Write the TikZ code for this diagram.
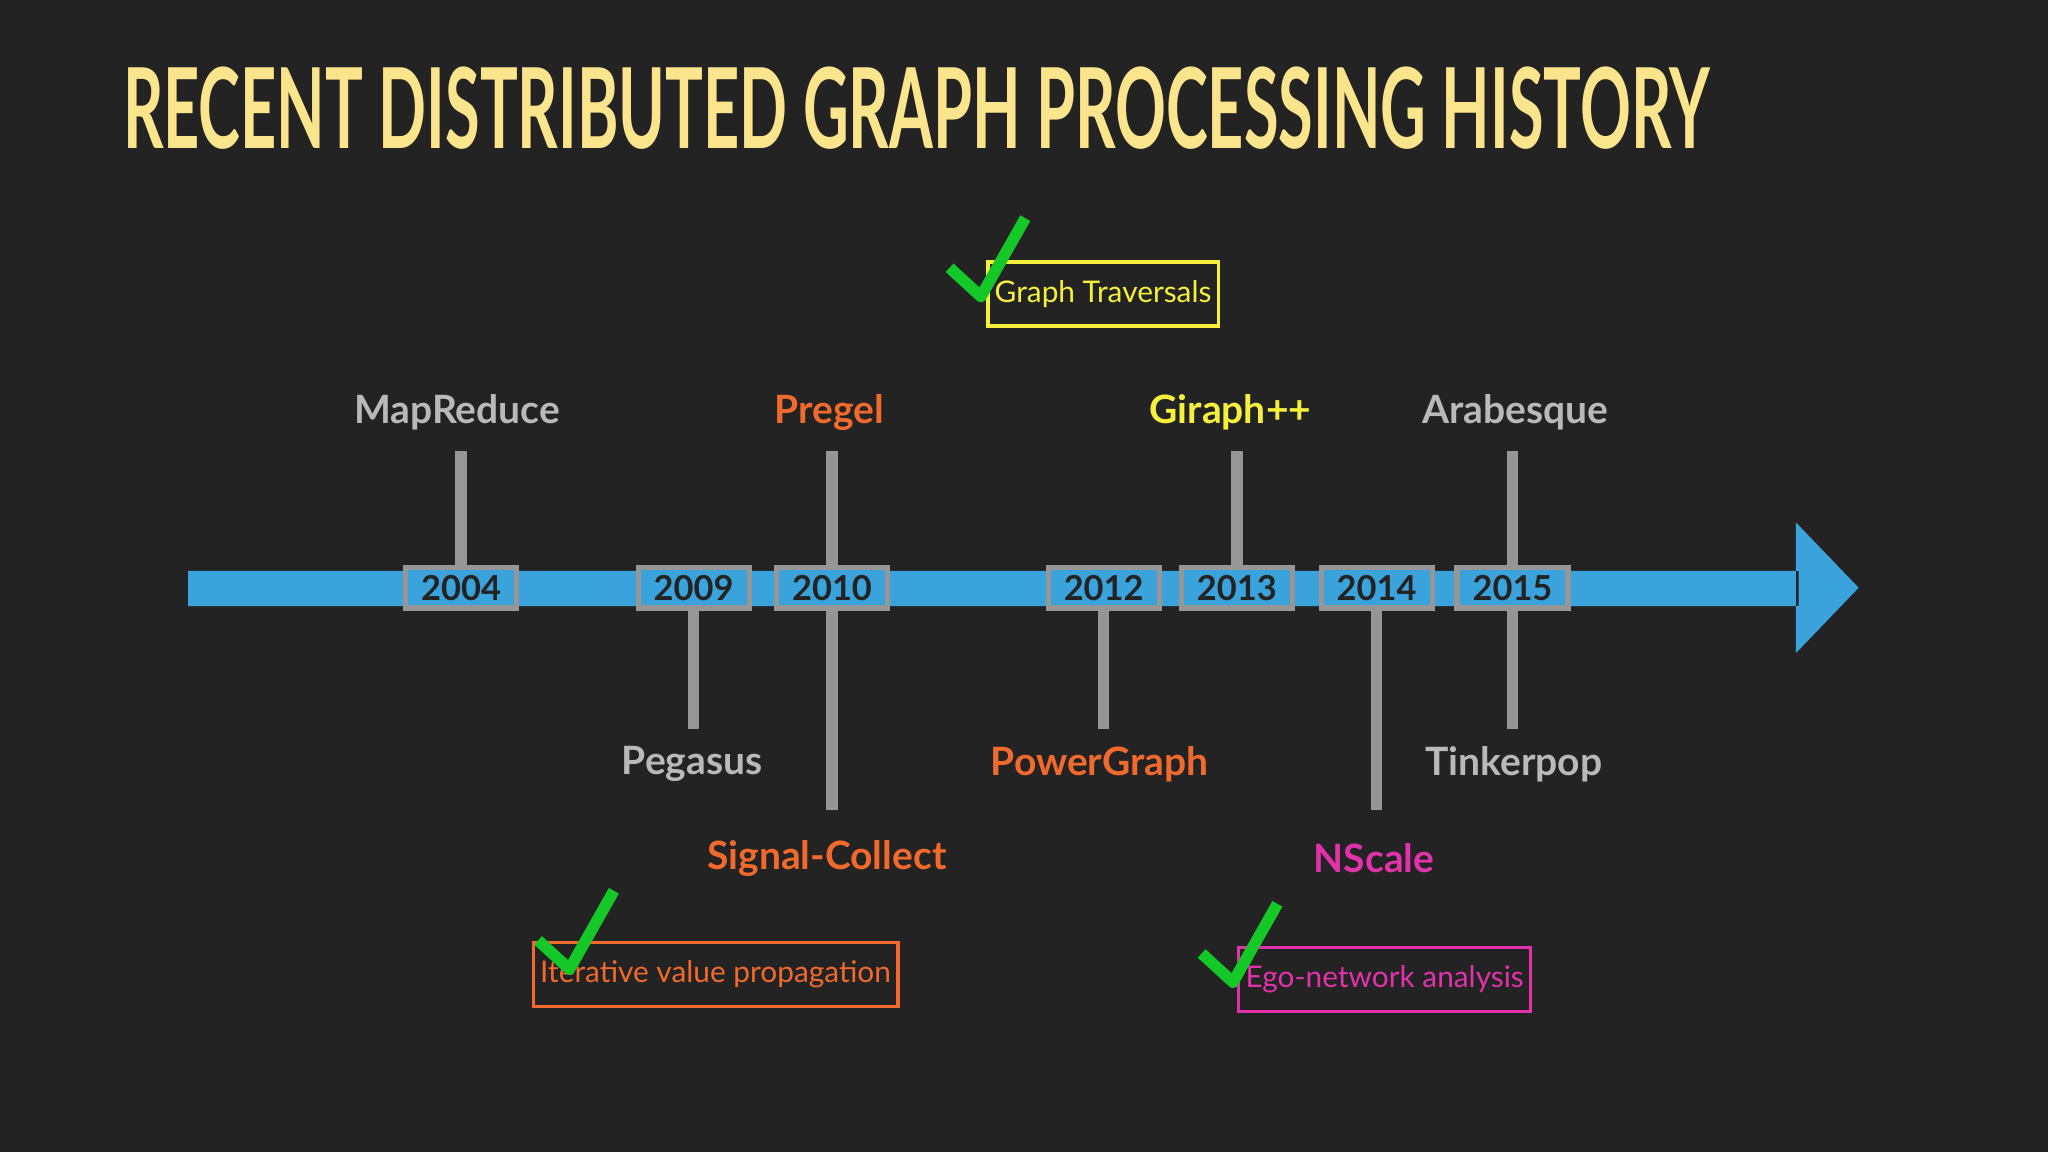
\documentclass[tikz,border=0pt]{standalone}
\usepackage{fontspec}
\setmainfont{Lato}
\usepackage{graphicx}
\usetikzlibrary{positioning}
\definecolor{bg}{RGB}{35,35,35}
\definecolor{tline}{RGB}{58,163,220}
\definecolor{stem}{RGB}{150,150,150}
\definecolor{titl}{RGB}{250,228,140}
\definecolor{grau}{RGB}{185,185,185}
\definecolor{orng}{RGB}{240,105,45}
\definecolor{gelb}{RGB}{245,240,60}
\definecolor{mag}{RGB}{225,50,170}
\definecolor{grn}{RGB}{20,200,40}
\begin{document}
\begin{tikzpicture}[x=0.02cm, y=-0.02cm,
                      year/.style = {
                        draw=stem, line width=2.2pt, fill=tline,
                        minimum width=1.7cm, minimum height=0.62cm,
                        inner sep=0pt, font=\fontsize{15}{15}\selectfont\bfseries,
                        text=bg
                      },
                      sys/.style = {
                        font=\fontsize{17}{17}\selectfont\bfseries
                      },
                      note/.style = {
                        draw, line width=1.5pt, inner sep=3pt,
                        minimum height=0.98cm,
                        font=\fontsize{13}{13}\selectfont
                      },
                      stemline/.style = {draw=stem, line width=5pt},
                      tick/.style = {draw=grn, line width=5pt, line join=round}]
    \fill[bg] (0,0) rectangle (1568,882);

    \node(title)[anchor=west, text=titl] at (88,83)
      {\resizebox{24.3cm}{1.25cm}{\bfseries RECENT DISTRIBUTED GRAPH PROCESSING HISTORY}};

    % timeline
    \fill[tline] (144,437) rectangle (1377,464)
      (1375,400) -- (1423,450) -- (1375,500) -- cycle;

    % stem ends
    \coordinate (u2004) at (353,345);
    \coordinate (d2009) at (531,558);
    \coordinate (u2010) at (637,345);
    \coordinate (d2010) at (637,620);
    \coordinate (d2012) at (845,558);
    \coordinate (u2013) at (947,345);
    \coordinate (d2014) at (1054,620);
    \coordinate (u2015) at (1158,345);
    \coordinate (d2015) at (1158,558);

    \foreach \yr/\x in {2004/353, 2009/531, 2010/637, 2012/845,
                        2013/947, 2014/1054, 2015/1158}
      \coordinate (c\yr) at (\x,450);

    \path[stemline] (c2004) -- (u2004) (c2009) -- (d2009)
      (c2010) -- (u2010) (c2010) -- (d2010) (c2012) -- (d2012)
      (c2013) -- (u2013) (c2014) -- (d2014)
      (c2015) -- (u2015) (c2015) -- (d2015);

    \foreach \yr in {2004, 2009, 2010, 2012, 2013, 2014, 2015}
      \node(y\yr)[year] at (c\yr) {\yr};

    % systems
    \node(mapreduce)[sys, text=grau] at (350,316) {MapReduce};
    \node(pregel)[sys, text=orng] at (635,316) {Pregel};
    \node(giraph)[sys, text=gelb] at (942,316) {Giraph++};
    \node(arabesque)[sys, text=grau] at (1160,316) {Arabesque};
    \node(pegasus)[sys, text=grau] at (530,585) {Pegasus};
    \node(powergraph)[sys, text=orng] at (842,585) {PowerGraph};
    \node(tinkerpop)[sys, text=grau] at (1159,585) {Tinkerpop};
    \node(signal)[sys, text=orng] at (633,657) {Signal-Collect};
    \node(nscale)[sys, text=mag] at (1052,657) {NScale};

    % capabilities
    \node(traversal)[note, draw=gelb, text=gelb, anchor=west] at (755,225) {Graph Traversals};
    \node(iterative)[note, draw=orng, text=orng, anchor=west] at (407,746) {Iterative value propagation};
    \node(ego)[note, draw=mag, text=mag, anchor=west] at (947,750) {Ego-network analysis};

    \coordinate (k1) at (727,205);
    \coordinate (k2) at (412,720);
    \coordinate (k3) at (920,730);
    \path[tick] (k1) -- ++(24,22) -- ++(34,-60);
    \path[tick] (k2) -- ++(24,22) -- ++(34,-60);
    \path[tick] (k3) -- ++(24,22) -- ++(34,-60);
  \end{tikzpicture}
\end{document}
